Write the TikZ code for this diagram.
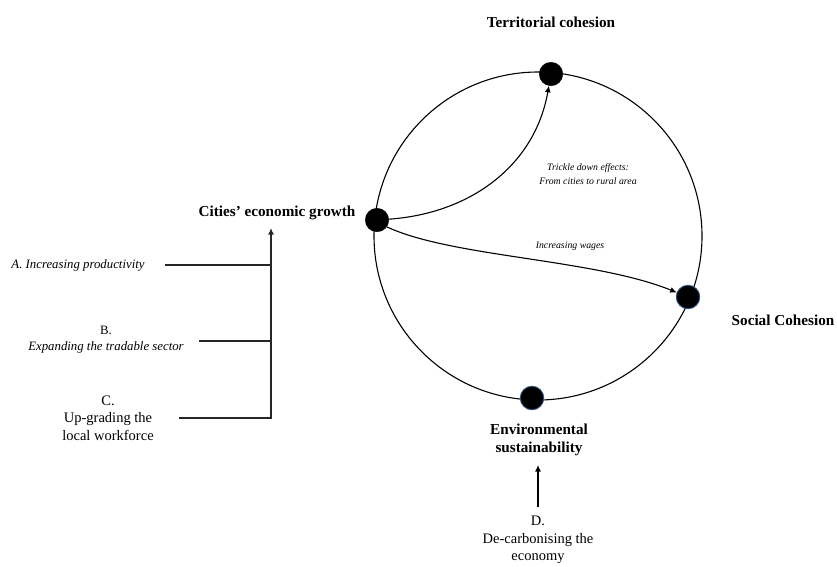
\documentclass[tikz,border=0pt]{standalone}
\usepackage{fontspec}
\setmainfont{Liberation Serif}
\usetikzlibrary{arrows.meta}
\definecolor{rimblue}{HTML}{2F4F80}
\begin{document}
\begin{tikzpicture}[x=1pt,y=1pt,
 dot/.style={circle,fill=black,draw=black,minimum size=23.5pt,inner sep=0pt},
 bdot/.style={dot,draw=rimblue,line width=0.9pt},
 title/.style={font=\fontsize{15.2}{18}\selectfont\bfseries,align=center,inner sep=0pt},
 note/.style={font=\fontsize{12.8}{16}\selectfont\itshape,align=center,inner sep=0pt},
 small/.style={font=\fontsize{9.8}{14}\selectfont\itshape,align=center,inner sep=0pt},
 plain/.style={font=\fontsize{14.5}{17.5}\selectfont,align=center,inner sep=0pt},
 ring/.style={line width=1.1pt},
 feed/.style={line width=1.2pt,draw=black!85},
 tip/.style={-{Latex[length=6.5pt,width=6pt]}},
 arr/.style={line width=1.1pt,tip}]
\useasboundingbox (0,0) rectangle (837,-566);
% ring
\coordinate (ctr) at (538,-236);
\draw[ring] (ctr) circle (164);
% circle nodes
\node[dot] (city) at (377,-220) {};
\node[dot] (terr) at (551,-74) {};
\node[bdot] (soc) at (688,-297) {};
\node[bdot] (env) at (532,-398) {};
% inner arrows
\draw[arr] (city) to[out=4,in=-100] (terr);
\draw[arr] (city.-35) .. controls +(-25:72) and +(158:90) .. (soc.158);
% labels
\node[title] (terrT) at (551,-22) {Territorial cohesion};
\node[title] (cityT) at (277,-213) {Cities’ economic growth};
\node[title] (socT) at (783,-320) {Social Cohesion};
\node[title] (envT) at (539,-440) {Environmental\\sustainability};
\node[small] (trickT) at (588,-174) {Trickle down effects:\\From cities to rural area};
\node[small] (wageT) at (570,-246) {Increasing wages};
\node[note] (aT) at (78,-265) {A. Increasing productivity};
\node[note] (bT) at (106,-340) {\upshape B.\\Expanding the tradable sector};
\node[plain] (cT) at (108,-418) {C.\\Up-grading the\\local workforce};
\node[plain] (dT) at (538,-540) {D.\\De-carbonising the\\economy};
% feeders into growth
\coordinate (sA) at (165,-265);
\coordinate (sB) at (199,-341);
\coordinate (sC) at (179,-418);
\coordinate (jA) at (271,-265);
\coordinate (jB) at (271,-341);
\coordinate (jC) at (271,-418);
\coordinate (gTip) at (271,-228);
\draw[feed] (sA) -- (jA);
\draw[feed] (sB) -- (jB);
\draw[feed,tip] (sC) -- (jC) -- (gTip);
% D arrow
\coordinate (dS) at (538,-507);
\coordinate (dE) at (538,-465);
\draw[arr] (dS) -- (dE);
\end{tikzpicture}
\end{document}
